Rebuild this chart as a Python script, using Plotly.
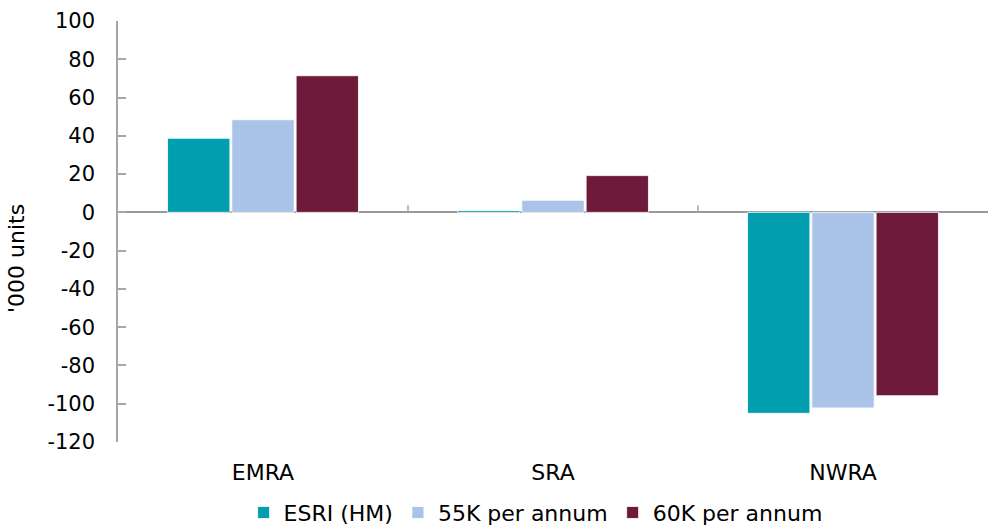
import plotly.graph_objects as go

regions = ["EMRA", "SRA", "NWRA"]
series_names = ["ESRI (HM)", "55K per annum", "60K per annum"]
esri_hm = [38.7, 0.9, -105.0]
k55_per_annum = [48.4, 6.3, -102.2]
k60_per_annum = [71.4, 19.2, -95.8]
series_colors = ["#009EAF", "#A9C4E8", "#6E1A3B"]
y_ticks = [100, 80, 60, 40, 20, 0, -20, -40, -60, -80, -100, -120]
y_tick_text = [str(v) for v in y_ticks]  # plain hyphen for negatives

FONT = "DejaVu Sans"
AXIS_GREY = "#A6A6A6"

fig = go.Figure()
for name, vals, col in zip(series_names, [esri_hm, k55_per_annum, k60_per_annum], series_colors):
    fig.add_trace(go.Bar(
        x=regions, y=vals, name=name,
        marker=dict(color=col, line=dict(color="rgba(255,255,255,0.8)", width=1)),
    ))

# small upward ticks on the zero line between categories
for b in [0.5, 1.5]:
    fig.add_shape(type="line", xref="x", yref="y", x0=b, x1=b, y0=0, y1=3.7,
                  line=dict(color=AXIS_GREY, width=1.5))

fig.add_annotation(text="'000 units", xref="paper", yref="paper", x=-0.116, y=0.435,
                   xanchor="center", yanchor="middle", textangle=-90, showarrow=False,
                   font=dict(family=FONT, size=22, color="#000000"))

fig.update_layout(
    width=989, height=528,
    margin=dict(l=118, r=1, t=21, b=86, autoexpand=False),
    paper_bgcolor="white", plot_bgcolor="white",
    barmode="group", bargap=0.335, bargroupgap=0.03,
    font=dict(family=FONT, size=21, color="#000000"),
    showlegend=True,
    legend=dict(orientation="h", x=0.48, xanchor="center", y=-0.118, yanchor="top",
                font=dict(family=FONT, size=22), itemwidth=30, traceorder="normal"),
    xaxis=dict(showline=False, ticks="", showgrid=False, zeroline=False,
               tickfont=dict(family=FONT, size=22), ticklabelstandoff=15),
    yaxis=dict(range=[-120, 100], tickvals=y_ticks, ticktext=y_tick_text, showgrid=False,
               showline=True, linecolor=AXIS_GREY, linewidth=1.5,
               ticks="inside", ticklen=8, tickcolor=AXIS_GREY, tickwidth=1.5,
               ticklabelstandoff=17,
               zeroline=True, zerolinecolor="#999999", zerolinewidth=2,
               tickfont=dict(family=FONT, size=21)),
)

fig.write_html("out.html")
